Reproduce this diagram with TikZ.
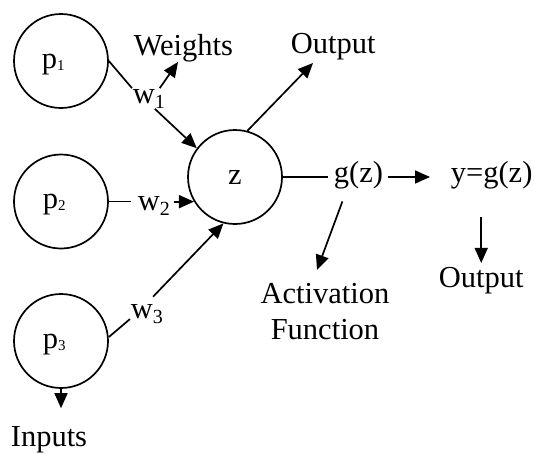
\documentclass[tikz,border=0pt]{standalone}
\usepackage{fontspec}
\setmainfont{Liberation Serif}
\usetikzlibrary{arrows.meta}
\newcommand\psmall[1]{\raisebox{-2pt}{\fontsize{15}{15}\selectfont #1}}
\newcommand\wsmall[1]{\raisebox{-5pt}{\fontsize{20}{20}\selectfont #1}}
\begin{document}
\begin{tikzpicture}[x=1pt,y=-1pt,line width=1.7pt,
  big/.style={font=\fontsize{30.5}{36}\selectfont},
  circ/.style={draw,circle,minimum size=94pt,inner sep=0pt,big},
  txt/.style={big,inner sep=0pt,anchor=base west},
  arr/.style={-{Triangle[length=15pt,width=13pt]}}]
\useasboundingbox (0,0) rectangle (534,453);
% circles
\node[circ] (p1) at (61,61) {};
\node[circ] (p2) at (61,201.5) {};
\node[circ] (p3) at (61,341) {};
\node[circ] (z) at (235,177) {z};
% circle texts
\node[txt] (p1t) at (41,68) {p\psmall{1}};
\node[txt] (p2t) at (42,208) {p\psmall{2}};
\node[txt] (p3t) at (42,348) {p\psmall{3}};
% labels
\node[txt] (w1) at (132,103) {w\wsmall{1}};
\node[txt] (w2) at (137,210) {w\wsmall{2}};
\node[txt] (w3) at (130,318) {w\wsmall{3}};
\node[txt] (weights) at (133,55) {Weights};
\node[txt] (outtop) at (290,53) {Output};
\node[txt] (g) at (333,182) {g(z)};
\node[txt] (yg) at (450,182) {y=g(z)};
\node[big,inner sep=0pt,anchor=north,align=center] (act) at (325,282) {Activation\\Function};
\node[txt] (outbot) at (438,287) {Output};
\node[txt] (inputs) at (10,446) {Inputs};
% connectors
\draw (p1.east) -- (w1.north west);
\draw[arr] ([xshift=6pt]w1.south) -- (z.143);
\draw[arr] ([xshift=-6pt]w1.north east) -- ([xshift=45pt,yshift=-7pt]weights.base west);
\draw[shorten >=6pt] (p2.east) -- (p2.east -| w2.west);
\draw[arr] ([xshift=3pt]w2.east |- z.211) -- (z.211);
\draw ([yshift=4pt]p3.east) -- ([yshift=5pt]w3.south west);
\draw[arr,shorten <=9pt] (w3.north) -- (z.256);
\draw[arr] (z.75) -- ([xshift=23pt,yshift=-10pt]outtop.base west);
\draw[shorten >=5pt] (z.east) -- (z.east -| g.west);
\draw[arr,shorten <=4pt,shorten >=20pt] (z.east -| g.east) -- (z.east -| yg.west);
\draw[arr] ([xshift=-16pt,yshift=-12pt]g.south) -- ([xshift=-8pt,yshift=12pt]act.north);
\draw[arr,shorten <=28pt,shorten >=3pt] (yg.south -| outbot.north) -- (outbot.north);
\draw[arr,shorten >=17pt] (p3.south) -- (p3.south |- inputs.north);
\end{tikzpicture}
\end{document}
